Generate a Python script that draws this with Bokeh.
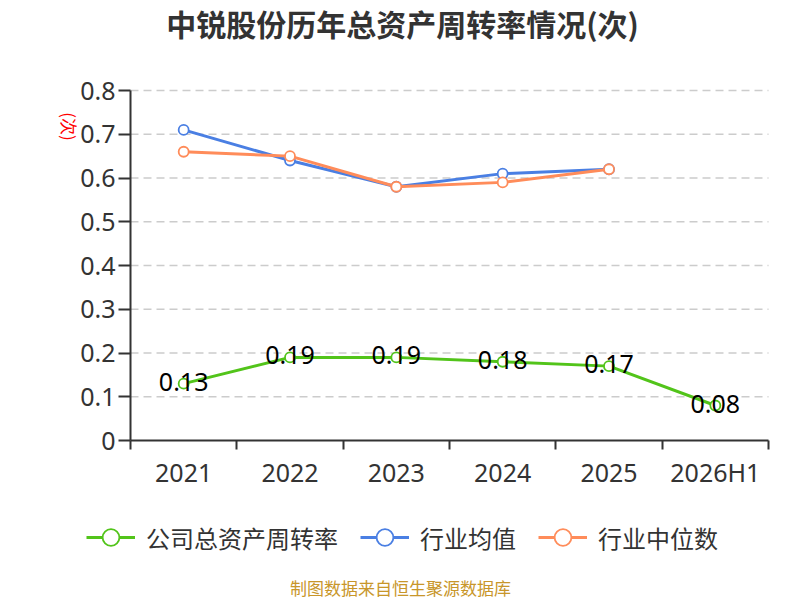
import math
from bokeh.plotting import figure
from bokeh.models import (ColumnDataSource, Range1d, FixedTicker, Label, Legend, LegendItem)
from bokeh.core.properties import value
from bokeh.embed import file_html
from bokeh.resources import INLINE

categories = ["2021", "2022", "2023", "2024", "2025", "2026H1"]
company = [0.13, 0.19, 0.19, 0.18, 0.17, 0.08]
industry_mean = [0.71, 0.64, 0.58, 0.61, 0.62]
industry_median = [0.66, 0.65, 0.58, 0.59, 0.62]
y_ticks = [0, 0.1, 0.2, 0.3, 0.4, 0.5, 0.6, 0.7, 0.8]
y_tick_labels = ["0", "0.1", "0.2", "0.3", "0.4", "0.5", "0.6", "0.7", "0.8"]

title_text = "中锐股份历年总资产周转率情况(次)"
unit_text = "(次)"
footer_text = "制图数据来自恒生聚源数据库"
names = ["公司总资产周转率", "行业均值", "行业中位数"]

GREEN = "#52c41a"
BLUE = "#4a7fe3"
ORANGE = "#ff8c5a"
TXT = "#333333"
LATIN = "Noto Sans"
CJK = "Noto Sans CJK SC"

# layout (pixels): plotting area inside an 800x600 canvas
W, H = 800, 600
PL, PR, PT, PB = 130, 768, 90, 440
n = len(categories)
ymax = y_ticks[-1]
xper = n / (PR - PL)
yper = ymax / (PB - PT)
x_range = Range1d(-PL * xper, n + (W - PR) * xper)
y_range = Range1d(-(H - PB) * yper, ymax + PT * yper)

xpos = [i + 0.5 for i in range(n)]

p = figure(width=W, height=H, min_border=0, x_range=x_range, y_range=y_range,
           output_backend="svg", toolbar_location=None, title=None)
p.outline_line_color = None
p.background_fill_color = "white"
p.border_fill_color = "white"

# axes (fixed inside the canvas)
p.xaxis.fixed_location = 0
p.xaxis.bounds = (0, n)
p.xaxis.ticker = FixedTicker(ticks=xpos, minor_ticks=list(range(n + 1)))
p.xaxis.major_label_overrides = {x: c for x, c in zip(xpos, categories)}
p.xaxis.major_tick_out = 0
p.xaxis.major_tick_in = 0
p.xaxis.minor_tick_out = 9
p.xaxis.minor_tick_in = 0
p.xaxis.minor_tick_line_color = TXT
p.xaxis.minor_tick_line_width = 2
p.xaxis.axis_line_color = TXT
p.xaxis.axis_line_width = 2
p.xaxis.major_label_text_font_size = "25px"
p.xaxis.major_label_text_font = LATIN
p.xaxis.major_label_text_color = TXT
p.xaxis.major_label_standoff = 5

p.yaxis.fixed_location = 0
p.yaxis.bounds = (0, ymax)
p.yaxis.ticker = FixedTicker(ticks=y_ticks)
p.yaxis.major_label_overrides = {t: l for t, l in zip(y_ticks, y_tick_labels)}
p.yaxis.major_tick_out = 12
p.yaxis.major_tick_in = 0
p.yaxis.minor_tick_line_color = None
p.yaxis.major_tick_line_color = TXT
p.yaxis.major_tick_line_width = 2
p.yaxis.axis_line_color = TXT
p.yaxis.axis_line_width = 2
p.yaxis.major_label_text_font_size = "25px"
p.yaxis.major_label_text_font = LATIN
p.yaxis.major_label_text_color = TXT
p.yaxis.major_label_standoff = 3

p.xgrid.grid_line_color = None
p.ygrid.grid_line_color = None

# dashed horizontal grid lines across the plotting area
grid_y = y_ticks[1:]
p.segment(x0=[0] * len(grid_y), x1=[n] * len(grid_y), y0=grid_y, y1=grid_y,
          line_color="#cccccc", line_width=1.5, line_dash="8 5")

# series
src_c = ColumnDataSource(dict(x=xpos, y=company, t=[f"{v:.2f}" for v in company]))
src_m = ColumnDataSource(dict(x=xpos[:len(industry_mean)], y=industry_mean))
src_d = ColumnDataSource(dict(x=xpos[:len(industry_median)], y=industry_median))

items = []
for src, col, name in [(src_c, GREEN, names[0]), (src_m, BLUE, names[1]), (src_d, ORANGE, names[2])]:
    ln = p.line("x", "y", source=src, line_color=col, line_width=3)
    sc = p.scatter("x", "y", source=src, marker="circle", size=10, fill_color="white",
                   line_color=col, line_width=1.8)
    items.append(LegendItem(label=name, renderers=[ln, sc]))

p.text("x", "y", text="t", source=src_c, text_align="center", text_baseline="middle",
       y_offset=-2, text_font_size="25px", text_color="black", text_font=value(LATIN))

legend = Legend(items=items, orientation="horizontal", location=(86, 42),
                glyph_width=49, glyph_height=42, label_standoff=11, spacing=22,
                padding=0, margin=0, border_line_color=None, background_fill_alpha=0,
                label_text_font_size="24px", label_text_font=CJK, label_text_color=TXT,
                label_text_baseline="middle")
p.add_layout(legend, "center")

p.add_layout(Label(x=402, y=H - 22, x_units="screen", y_units="screen", text=title_text,
                   text_align="center", text_baseline="middle", text_font_size="30px",
                   text_font_style="bold", text_font=CJK, text_color=TXT))
p.add_layout(Label(x=69, y=H - 126, x_units="screen", y_units="screen", text=unit_text,
                   text_align="center", text_baseline="middle", text_font_size="17px",
                   text_font=CJK, text_color="red", angle=-math.pi / 2))
p.add_layout(Label(x=400, y=H - 587, x_units="screen", y_units="screen", text=footer_text,
                   text_align="center", text_baseline="middle", text_font_size="17px",
                   text_font=CJK, text_color="#c8962a"))

open("out.html", "w").write(file_html(p, INLINE))
